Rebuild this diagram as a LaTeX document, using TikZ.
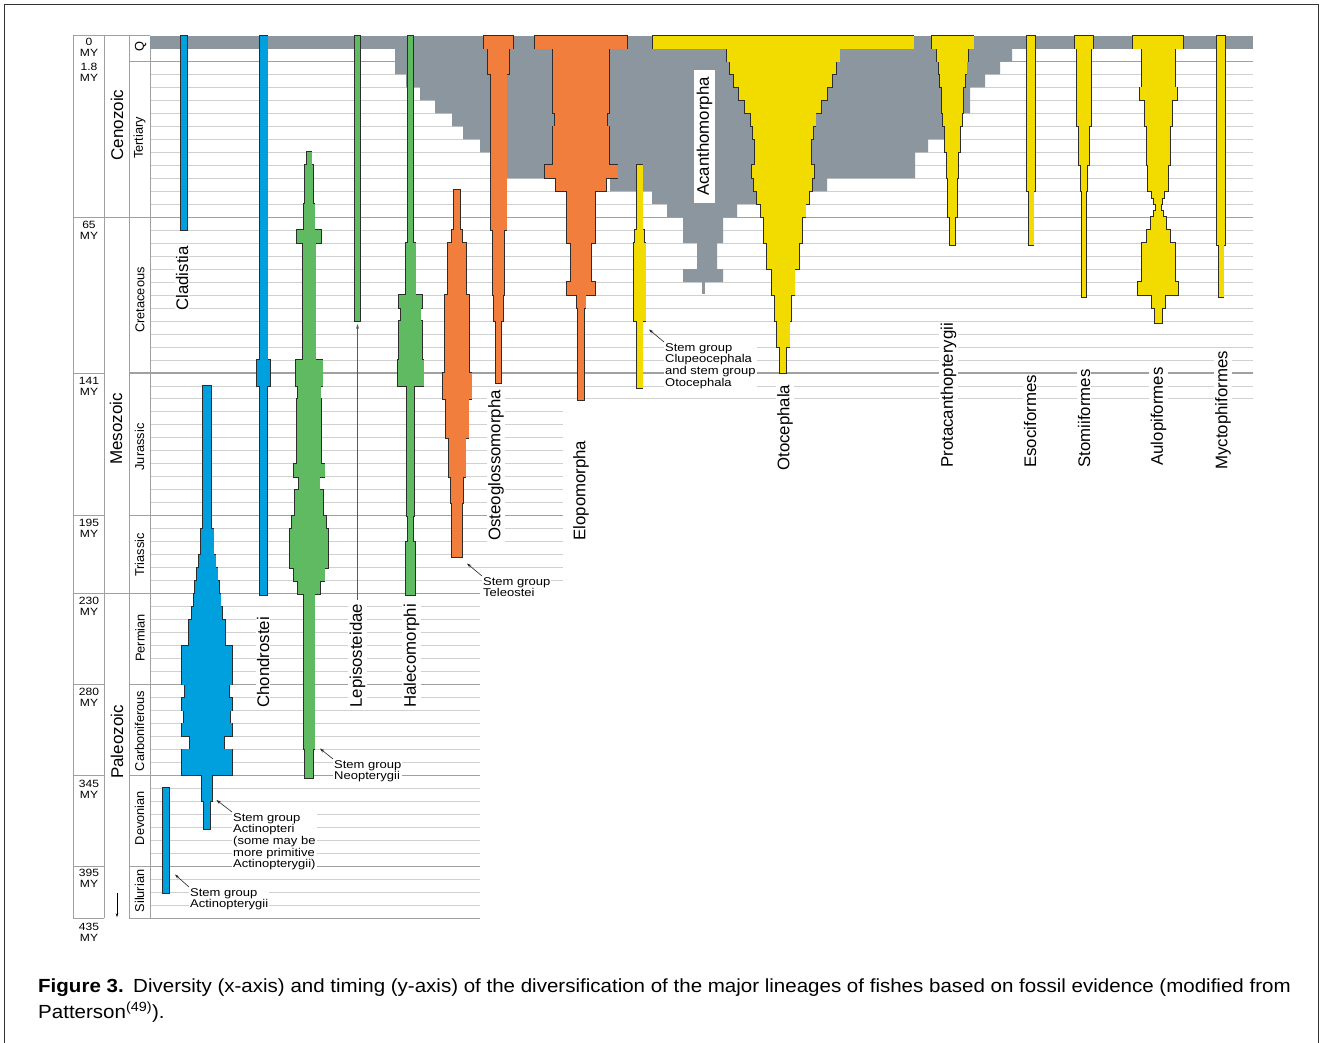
\documentclass[tikz,border=0pt]{standalone}
\usepackage{fontspec}
\setmainfont{Liberation Sans}
\newfontfamily\annfont[FakeStretch=1.15]{Liberation Sans}
\newfontfamily\capfont[FakeStretch=1.08]{Liberation Sans}
\usetikzlibrary{arrows.meta}
\definecolor{cblue}{RGB}{0,160,222}
\definecolor{cgreen}{RGB}{96,186,98}
\definecolor{corange}{RGB}{241,126,60}
\definecolor{cyellow}{RGB}{242,220,0}
\definecolor{cgray}{RGB}{140,150,158}
\definecolor{outl}{RGB}{45,45,45}
\definecolor{gridc}{RGB}{208,208,208}
\definecolor{perc}{RGB}{160,160,160}
\newcommand{\spindle}[3]{%
  \foreach \ya/\yb/\hw in {#3}{\fill[outl] ({#1-\hw-0.9},{\ya-0.9}) rectangle ({#1+\hw+0.9},{\yb+0.9});}
  \foreach \ya/\yb/\hw in {#3}{\fill[#2] ({#1-\hw},{\ya}) rectangle ({#1+\hw},{\yb});}
}
\begin{document}
\begin{tikzpicture}[x=1pt,y=-1pt,
  lab/.style={font=\fontsize{16.8}{18}\selectfont, rotate=90, anchor=west, fill=white, inner sep=1.2pt},
  era/.style={font=\fontsize{17}{18}\selectfont, rotate=90, inner sep=0pt},
  per/.style={font=\fontsize{12.8}{14}\selectfont, rotate=90, inner sep=0pt},
  mylab/.style={font=\annfont\fontsize{10.5}{11}\selectfont, align=center, anchor=north, inner sep=0pt},
  ann/.style={font=\annfont\fontsize{11.3}{11.7}\selectfont, align=left, anchor=north west, fill=white, inner sep=1pt},
  annarrow/.style={-{Stealth[length=4.5pt,width=3pt]}, line width=0.6pt, black!85},
  minor/.style={draw=gridc, line width=0.9pt},
  major/.style={draw=perc, line width=1.1pt},
  colline/.style={draw=perc, line width=0.9pt},
  captext/.style={anchor=base west, inner sep=0pt, font=\capfont\fontsize{19}{22}\selectfont}]
\useasboundingbox (0,0) rectangle (1323,1042);
\fill[white] (0,0) rectangle (1323,1042);
% grid
\foreach \k in {1,...,68}{
  \pgfmathsetmacro\yy{35.5+12.98*\k}
  \pgfmathsetmacro\xe{\k<29 ? 1253 : (\k<43 ? 563 : 480)}
  \draw[minor] (150,\yy) -- (\xe,\yy);
}
\foreach \yy/\xe in {61.5/1253,373/1253,515.8/563,684.5/480,775.4/480,866.2/480,918.1/480}{
  \draw[major] (129,\yy) -- (\xe,\yy);
}
\foreach \yy/\xe in {217.2/1253,593.6/480}{\draw[major] (73,\yy) -- (\xe,\yy);}
\foreach \yy in {373,515.8,684.5,775.4,866.2,918.1}{\draw[colline] (73,\yy) -- (104,\yy);}
\draw[colline] (73,35.5) -- (150,35.5);
\draw[colline] (73,35.5) -- (73,918.1);
\draw[colline] (104,35.5) -- (104,918.1);
\draw[colline] (129,35.5) -- (129,918.1);
\draw[colline] (150,35.5) -- (150,918.1);
% gray diversity
\fill[cgray] (150,35.5) rectangle (1253,48.5);
\fill[cgray] (395,48.5) -- (395,74.4) -- (406,74.4) -- (406,87.4) -- (420,87.4) -- (420,100.4) -- (435,100.4) -- (435,113.4) -- (452,113.4) -- (452,126.4) -- (463,126.4) -- (463,139.3) -- (480,139.3) -- (480,152.3) -- (490,152.3) -- (490,178.3) -- (610,178.3) -- (610,191.3) -- (652,191.3) -- (652,204.2) -- (667,204.2) -- (667,217.2) -- (683,217.2) -- (683,243.2) -- (697,243.2) -- (697,269.1) -- (683,269.1) -- (683,282.1) -- (723,282.1) -- (723,269.1) -- (717,269.1) -- (717,243.2) -- (723,243.2) -- (723,217.2) -- (737,217.2) -- (737,204.2) -- (780,204.2) -- (780,191.3) -- (827,191.3) -- (827,178.3) -- (915,178.3) -- (915,152.3) -- (928,152.3) -- (928,139.3) -- (950,139.3) -- (950,113.4) -- (970,113.4) -- (970,87.4) -- (985,87.4) -- (985,74.4) -- (1000,74.4) -- (1000,61.5) -- (1012,61.5) -- (1012,48.5) -- cycle;
\fill[cgray] (702,282) rectangle (705,293.5);
% blue
\spindle{184}{cblue}{35.5/230.2/3}
\spindle{263.5}{cblue}{35.5/360/4, 360/386/6.5, 386/595/3.7}
\spindle{207}{cblue}{386/528.7/4.3, 528.7/554.7/6.5, 554.7/567.7/8.5, 567.7/580.7/10.5, 580.7/593.6/12, 593.6/606.6/13.5, 606.6/619.6/15, 619.6/645.6/18, 645.6/684.5/25, 684.5/697.5/22, 697.5/710.5/25, 710.5/723.4/23, 723.4/736.4/25, 736.4/749.4/17, 749.4/775.4/25, 775.4/801.3/5, 801.3/829/3}
\spindle{166}{cblue}{788.3/893/2.8}
% green
\spindle{309}{cgreen}{152/165.3/2.5, 165.3/204.2/4, 204.2/230.2/5.5, 230.2/243.2/12, 243.2/360/6.5, 360/386/13.5, 386/399/11.5, 399/463.8/12, 463.8/476.8/15.5, 476.8/489.8/10.5, 489.8/515.8/14, 515.8/528.7/17, 528.7/567.7/19, 567.7/580.7/15.5, 580.7/593.6/11, 593.6/749.4/5.5, 749.4/778/3.8}
\spindle{357.5}{cgreen}{35.5/321/2.5}
\spindle{410.5}{cgreen}{35.5/243.2/2.5, 243.2/295.1/5, 295.1/308.1/11.5, 308.1/321/10, 321/360/11.5, 360/386/13, 386/515.8/3.5, 515.8/541.7/2.5, 541.7/595/4.5}
% orange
\spindle{457}{corange}{190/230.2/2.7, 230.2/243.2/5, 243.2/295.1/9, 295.1/373/12, 373/399/14.5, 399/437.9/11.5, 437.9/476.8/8.5, 476.8/502.8/6, 502.8/557/5}
\spindle{498.5}{corange}{35.5/48.5/14.5, 48.5/74.4/10.5, 74.4/230.2/8, 230.2/295.1/5.5, 295.1/321/4.3, 321/383/2.7}
\spindle{581}{corange}{35.5/48.5/46, 48.5/113.4/28, 113.4/126.4/26, 126.4/165.3/28, 165.3/178.3/36.5, 178.3/191.3/25, 191.3/243.2/14, 243.2/282.1/10, 282.1/295.1/14, 295.1/308.1/4.5, 308.1/400/2.7}
% yellow
\spindle{639.5}{cyellow}{165.3/230.2/3, 230.2/243.2/4.5, 243.2/321/6, 321/388/3}
\spindle{783}{cyellow}{35.5/48.5/130.5, 48.5/61.5/56.5, 61.5/74.4/53, 74.4/87.4/49, 87.4/100.4/44, 100.4/113.4/38, 113.4/126.4/32.5, 126.4/139.3/30, 139.3/165.3/28, 165.3/178.3/31, 178.3/191.3/29, 191.3/204.2/26, 204.2/217.2/22.5, 217.2/243.2/19, 243.2/269.1/16, 269.1/295.1/11.5, 295.1/321/8.3, 321/347/6.5, 347/373/3.3}
\spindle{952.5}{cyellow}{35.5/48.5/21, 48.5/61.5/15.8, 61.5/74.4/14, 74.4/87.4/12.5, 87.4/113.4/10.8, 113.4/126.4/9.2, 126.4/152.3/7.5, 152.3/178.3/5.8, 178.3/217.2/4.2, 217.2/245/2.5}
\spindle{1031}{cyellow}{35.5/191.3/4.2, 191.3/245/2.5}
\spindle{1084}{cyellow}{35.5/48.5/8.8, 48.5/126.4/7, 126.4/165.3/5, 165.3/191.3/3.3, 191.3/297/1.8}
\spindle{1158.3}{cyellow}{35.5/48.5/25, 48.5/87.4/16.7, 87.4/100.4/18.3, 100.4/126.4/13.3, 126.4/165.3/11.7, 165.3/191.3/10, 191.3/197.8/6, 197.8/204.2/4, 204.2/210.7/2.5, 210.7/217.2/4.5, 217.2/230.2/7.5, 230.2/243.2/11.7, 243.2/282.1/16.7, 282.1/295.1/20, 295.1/308.1/6.7, 308.1/323/3.3}
\spindle{1221}{cyellow}{35.5/245/4.2, 245/297/2.5}
% Lepisosteidae pointer
\coordinate (lepTop) at (357.5,324);
\coordinate (lepBot) at (357.5,600);
\draw[{Stealth[length=5pt,width=3pt]}-, line width=0.6pt, black!65] (lepTop) -- (lepBot);
% lineage labels
\node[lab] (lCla) at (182,312) {Cladistia};
\node[lab] (lCho) at (263,709) {Chondrostei};
\node[lab] (lLep) at (357.5,709) {Lepisosteidae};
\node[lab] (lHal) at (411.5,709) {Halecomorphi};
\node[lab] (lOst) at (496,542) {Osteoglossomorpha};
\node[lab] (lElo) at (581,542) {Elopomorpha};
\node[lab] (lOto) at (785,472) {Otocephala};
\node[lab] (lPro) at (948.5,469) {Protacanthopterygii};
\node[lab] (lEso) at (1030,469) {Esociformes};
\node[lab] (lSto) at (1084,469) {Stomiiformes};
\node[lab] (lAul) at (1158.5,467) {Aulopiformes};
\node[lab] (lMyc) at (1223,471) {Myctophiformes};
\node[lab, anchor=center, inner xsep=7pt, inner ysep=2.5pt] (lAca) at (704.5,136.5) {Acanthomorpha};
% annotations
\node[ann] (a1) at (232,812) {Stem group\\Actinopteri\\(some may be\\more primitive\\Actinopterygii)};
\coordinate (a1t) at (216.5,800);
\draw[annarrow] (a1.north west) -- (a1t);
\node[ann] (a2) at (189,887) {Stem group\\Actinopterygii};
\coordinate (a2t) at (175,874.5);
\draw[annarrow] (a2.north west) -- (a2t);
\node[ann] (a3) at (333,759) {Stem group\\Neopterygii};
\coordinate (a3t) at (320,748.5);
\draw[annarrow] (a3.north west) -- (a3t);
\node[ann] (a4) at (482,576) {Stem group\\Teleostei};
\coordinate (a4t) at (467,563.5);
\draw[annarrow] (a4.north west) -- (a4t);
\node[ann] (a5) at (664,342) {Stem group\\Clupeocephala\\and stem group\\Otocephala};
\coordinate (a5t) at (649,329.5);
\draw[annarrow] (a5.north west) -- (a5t);
% era and period labels
\node[era] (eCen) at (117,125) {Cenozoic};
\node[era] (eMes) at (116,429) {Mesozoic};
\node[era] (ePal) at (117,742) {Paleozoic};
\node[per] (pQ) at (140.5,47) {Q};
\node[per] (pTer) at (139.5,138) {Tertiary};
\node[per] (pCre) at (140,300) {Cretaceous};
\node[per] (pJur) at (139.5,447) {Jurassic};
\node[per] (pTri) at (139.5,555) {Triassic};
\node[per] (pPer) at (140,638) {Permian};
\node[per] (pCar) at (139.5,731) {Carboniferous};
\node[per] (pDev) at (139.5,818) {Devonian};
\node[per] (pSil) at (139.5,891) {Silurian};
\coordinate (arA) at (117,893);
\coordinate (arB) at (117,917);
\draw[-{Stealth[length=3.5pt,width=2.5pt]}, line width=0.5pt] (arA) -- (arB);
% MY labels
\node[mylab] (m0) at (89,38) {0\\MY};
\node[mylab] (m1) at (89,63) {1.8\\MY};
\node[mylab] (m65) at (89,221) {65\\MY};
\node[mylab] (m141) at (89,377) {141\\MY};
\node[mylab] (m195) at (89,519) {195\\MY};
\node[mylab] (m230) at (89,597) {230\\MY};
\node[mylab] (m280) at (89,688) {280\\MY};
\node[mylab] (m345) at (89,780) {345\\MY};
\node[mylab] (m395) at (89,869) {395\\MY};
\node[mylab] (m435) at (89,923) {435\\MY};
% caption
\node[captext] (cap1) at (38,992) {\textbf{Figure 3.}\enspace Diversity (x-axis) and timing (y-axis) of the diversification of the major lineages of fishes based on fossil evidence (modified from};
\node[captext] (cap2) at (38,1018) {Patterson\textsuperscript{(49)}).};
% frame
\draw[line width=0.9pt, black!80] (4.5,4.5) rectangle (1318.5,1060);
\end{tikzpicture}
\end{document}
